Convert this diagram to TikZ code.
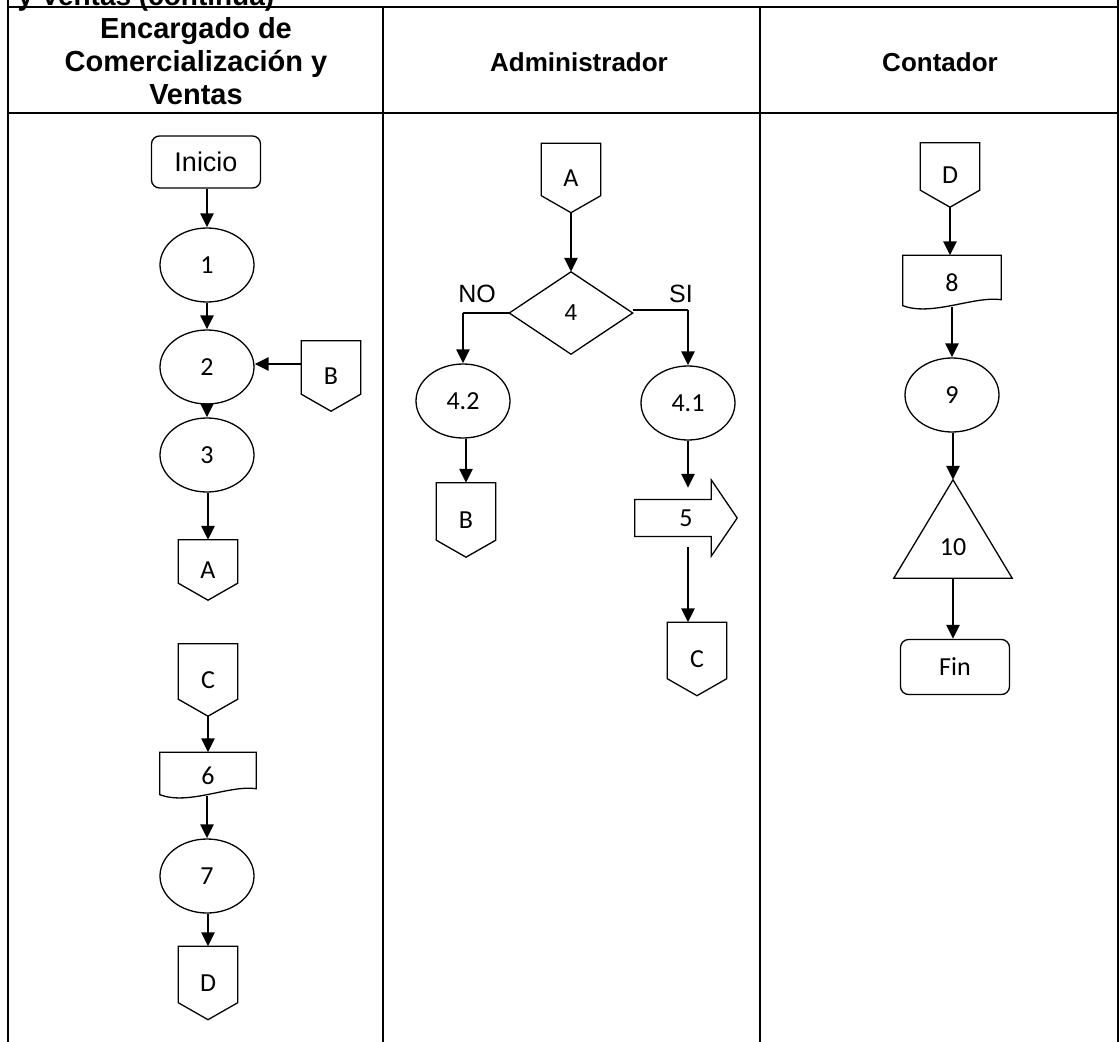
\documentclass[tikz,border=0pt]{standalone}
\usepackage{fontspec}
\setmainfont{Liberation Sans}
\newfontfamily\lblfont{Carlito}
\usetikzlibrary{arrows.meta,shapes.geometric}

% outlines drawn around plain rectangular nodes
\newcommand\offpg[1]{\draw[shp] (#1.north west) -- (#1.north east) -- ([yshift=17pt]#1.south east) -- (#1.south) -- ([yshift=17pt]#1.south west) -- cycle;}
\newcommand\docbox[1]{\draw[shp] ([yshift=5pt]#1.south west) -- (#1.north west) -- (#1.north east) -- ([yshift=11pt]#1.south east) .. controls ([xshift=-27pt,yshift=15pt]#1.south east) and ([xshift=29pt,yshift=-6pt]#1.south west) .. ([yshift=5pt]#1.south west) -- cycle;}
\newcommand\dmdbox[1]{\draw[shp] (#1.north) -- (#1.east) -- (#1.south) -- (#1.west) -- cycle;}
\newcommand\tribox[1]{\draw[shp] (#1.north) -- (#1.south east) -- (#1.south west) -- cycle;}
\newcommand\blkarrow[1]{\draw[shp] ([yshift=18.5pt]#1.west) -- ([xshift=-26pt,yshift=18.5pt]#1.east) -- ([xshift=-26pt]#1.north east) -- (#1.east) -- ([xshift=-26pt]#1.south east) -- ([xshift=-26pt,yshift=-18.5pt]#1.east) -- ([yshift=-18.5pt]#1.west) -- cycle;}

\begin{document}
\begin{tikzpicture}[x=1pt,y=-1pt,
  shp/.style={line width=1.3pt, line join=miter},
  ln/.style={line width=1.3pt},
  grid/.style={line width=1.5pt},
  arr/.style={line width=2.6pt, -{Triangle[length=14pt,width=13pt]}},
  hdr/.style={align=center, font=\bfseries\fontsize{26}{32}\selectfont},
  lbl/.style={font=\lblfont\fontsize{26}{26}\selectfont},
  term/.style={draw, shp, rectangle, rounded corners=8pt, minimum width=109pt, inner sep=0pt},
  proc/.style={draw, shp, ellipse, minimum width=94pt, minimum height=74pt, inner sep=0pt, lbl},
  conn/.style={rectangle, minimum width=59pt, minimum height=#1, inner sep=0pt, lbl},
  conn/.default=72pt,
  plain/.style={rectangle, inner sep=0pt}]
\useasboundingbox (0,0) rectangle (1120,1042);
\clip (0,0) rectangle (1120,1042);

% table frame
\draw[grid] (8,0) -- (8,1042);
\draw[grid] (1118,0) -- (1118,1042);
\draw[grid] (383,7) -- (383,1042);
\draw[grid] (760,7) -- (760,1042);
\draw[grid] (8,7) -- (1118,7);
\draw[grid] (8,113) -- (1118,113);

\node[anchor=base west, font=\bfseries\fontsize{28}{32}\selectfont] (cap) at (14,5) {y Ventas (continúa)};
\node[hdr, font=\bfseries\fontsize{29}{33}\selectfont] (h1) at (196,61) {Encargado de\\Comercialización y\\Ventas};
\node[hdr] (h2) at (579,62) {Administrador};
\node[hdr] (h3) at (940,62) {Contador};

% first lane
\node[term, minimum height=52pt, font=\fontsize{27}{27}\selectfont] (ini) at (206,162) {Inicio};
\node[proc] (p1) at (207,265) {1};
\node[proc] (p2) at (207,367) {2};
\node[conn=70pt] (B1) at (331,376) {B}; \offpg{B1}
\node[proc] (p3) at (207,455) {3};
\node[conn=60pt] (A1) at (208,570) {A}; \offpg{A1}
\node[conn] (C1) at (208,680) {C}; \offpg{C1}
\node[plain, minimum width=96pt, minimum height=47pt, lbl] (d6) at (208,776) {6}; \docbox{d6}
\node[proc] (p7) at (207,876) {7};
\node[conn=73pt] (D1) at (208,983) {D}; \offpg{D1}

\draw[arr] (ini.south -| p1.north) -- (p1.north);
\draw[arr] (p1.south) -- (p2.north);
\draw[arr] (p2.south) -- (p3.north);
\draw[arr] (B1.west |- 0,364) -- (p2.east |- 0,364);
\draw[arr] (p3.south -| A1.north) -- (A1.north);
\draw[arr] (C1.south) -- (C1.south |- d6.north);
\draw[arr] ([yshift=4pt]d6.south -| p7.north) -- (p7.north);
\draw[arr] (p7.south -| D1.north) -- (D1.north);

% second lane
\node[conn=69pt] (A2) at (571,178) {A}; \offpg{A2}
\node[plain, minimum width=123pt, minimum height=82pt, font=\fontsize{23}{23}\selectfont] (q4) at (571,313) {4}; \dmdbox{q4}
\node[font=\fontsize{25}{25}\selectfont, anchor=south] (no) at (477,306) {NO};
\node[font=\fontsize{25}{25}\selectfont, anchor=south] (si) at (681,306) {SI};
\node[proc] (p42) at (463,401) {4.2};
\node[conn=74pt] (B2) at (466,520) {B}; \offpg{B2}
\node[proc] (p41) at (688,403) {4.1};
\node[plain, minimum width=102pt, minimum height=76pt, lbl] (a5) at (686,518) {5}; \blkarrow{a5}
\node[conn=73pt] (C2) at (697,659) {C}; \offpg{C2}

\draw[arr] (A2.south) -- (q4.north);
\draw[ln] (q4.west) -- (q4.west -| p42.north);
\draw[arr] (q4.west -| p42.north) -- (p42.north);
\draw[ln] ([yshift=3pt]q4.east) -- ([yshift=3pt]q4.east -| p41.north);
\draw[arr] ([yshift=3pt]q4.east -| p41.north) -- (p41.north);
\draw[arr] (p42.south -| B2.north) -- (B2.north);
\draw[arr] (p41.south) -- ([yshift=-8pt]a5.north -| p41.south);
\draw[arr] ([yshift=9pt]a5.south -| p41.south) -- (p41.south |- C2.north);

% third lane
\node[conn=64pt] (D3) at (950,175) {D}; \offpg{D3}
\node[plain, minimum width=98pt, minimum height=55pt, lbl] (d8) at (952,283) {8}; \docbox{d8}
\node[proc] (p9) at (952,395) {9};
\node[plain, minimum width=118pt, minimum height=98pt, lbl,
      label={[lbl, yshift=-18pt]center:10}] (t10) at (953,529) {}; \tribox{t10}
\node[term, minimum height=55pt, lbl] (fin) at (955,667) {Fin};

\draw[arr] (D3.south) -- (D3.south |- d8.north);
\draw[arr] ([yshift=4pt]d8.south -| p9.north) -- (p9.north);
\draw[arr] (p9.south -| t10.north) -- (t10.north);
\draw[arr] (t10.south) -- (t10.south |- fin.north);
\end{tikzpicture}
\end{document}
